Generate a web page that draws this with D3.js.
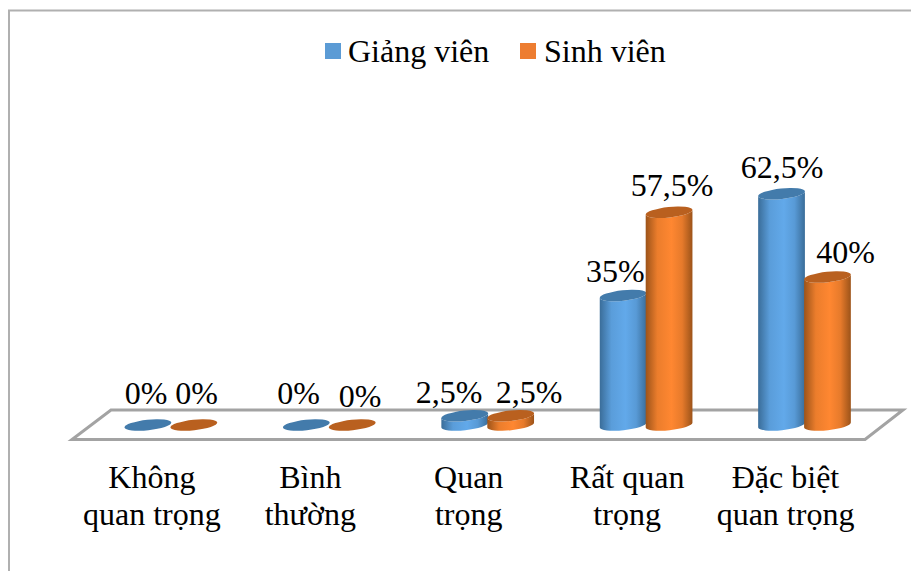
<!DOCTYPE html>
<html>
<head>
<meta charset="utf-8">
<script src="https://cdnjs.cloudflare.com/ajax/libs/d3/7.8.5/d3.min.js"></script>
<style>
    html, body { margin: 0; padding: 0; background: #fff; }
    svg { display: block; }
    text { font-family: "Liberation Serif", serif; fill: #000; }
</style>
</head>
<body>
<div id="chart"></div>
<script>
// values
const categories = ["Không quan trọng", "Bình thường", "Quan trọng", "Rất quan trọng", "Đặc biệt quan trọng"];
const categoryLines = [["Không", "quan trọng"], ["Bình", "thường"], ["Quan", "trọng"], ["Rất quan", "trọng"], ["Đặc biệt", "quan trọng"]];
const seriesNames = ["Giảng viên", "Sinh viên"];
const giangVien = [0, 0, 2.5, 35, 62.5];
const sinhVien = [0, 0, 2.5, 57.5, 40];
const valueLabels = [["0%", "0%", "2,5%", "35%", "62,5%"], ["0%", "0%", "2,5%", "57,5%", "40%"]];

const width = 911, height = 571;
const colors = [
    {top: "#437bab", edge: "#3a6d99", mid: "#62a9ea"},
    {top: "#b9601f", edge: "#9c5319", mid: "#ff8731"}
];

const svg = d3.select("#chart").append("svg")
    .attr("width", width)
    .attr("height", height);

// horizontal shading that makes the bars look round
const defs = svg.append("defs");
colors.forEach((c, i) => {
    const grad = defs.append("linearGradient").attr("id", "cyl" + i);
    grad.append("stop").attr("offset", "0%").attr("stop-color", c.edge);
    grad.append("stop").attr("offset", "25%").attr("stop-color", d3.interpolateRgb(c.edge, c.mid)(0.8));
    grad.append("stop").attr("offset", "55%").attr("stop-color", c.mid);
    grad.append("stop").attr("offset", "78%").attr("stop-color", d3.interpolateRgb(c.edge, c.mid)(0.75));
    grad.append("stop").attr("offset", "100%").attr("stop-color", c.edge);
});

// outer frame, only left and top show up in the source
svg.append("path")
    .attr("d", "M9,571V10.5H911")
    .attr("fill", "none")
    .attr("stroke", "#b0b0b0")
    .attr("stroke-width", 2);

const x0 = d3.scaleBand().domain(categories).range([91.7, 883.7]).paddingInner(0.42).paddingOuter(0.21);
const x1 = d3.scaleBand().domain(seriesNames).range([0, x0.bandwidth()]);
const y = d3.scaleLinear().domain([0, 100]).range([425, 55]);

// floor of the 3d plot
svg.append("path")
    .attr("d", "M72,439.5H865L903,410H111Z")
    .attr("fill", "#fff")
    .attr("stroke", "#a3a3a3")
    .attr("stroke-width", 3);

const rx = 23.5, ry = 5.2, tilt = -6;
const ca = Math.cos(tilt * Math.PI / 180) * rx, sa = Math.sin(tilt * Math.PI / 180) * rx;

function cylinderPath(cx, yTop, yBase) {
    return `M${cx - ca},${yTop - sa}L${cx - ca},${yBase - sa}`
        + `A${rx},${ry} ${tilt} 0 0 ${cx + ca},${yBase + sa}`
        + `L${cx + ca},${yTop + sa}`
        + `A${rx},${ry} ${tilt} 0 1 ${cx - ca},${yTop - sa}Z`;
}

const seriesValues = [giangVien, sinhVien];
const rows = categories.flatMap((cat, i) => seriesNames.map((name, s) => ({
    cat, name, s, i, value: seriesValues[s][i]
})));

const bars = svg.append("g").selectAll("g")
    .data(rows)
    .join("g")
    .attr("transform", d => `translate(${x0(d.cat) + x1(d.name) + x1.bandwidth() / 2},0)`);

bars.filter(d => d.value > 0).append("path")
    .attr("d", d => cylinderPath(0, y(d.value), y(0)))
    .attr("fill", d => `url(#cyl${d.s})`);

bars.append("ellipse")
    .attr("rx", rx)
    .attr("ry", ry)
    .attr("transform", d => `translate(0,${y(d.value)}) rotate(${tilt})`)
    .attr("fill", d => colors[d.s].top);

// data labels were dragged by hand in the source, so they sit at their own spots
const labelSpots = [
    [[146, 403.5], [298.5, 403.5], [449, 403], [615.4, 281.7], [782, 177.5]],
    [[196.5, 403.5], [360, 406.5], [529, 403], [672, 195.5], [845.5, 263]]
];

svg.append("g").selectAll("text")
    .data(rows)
    .join("text")
    .attr("x", d => labelSpots[d.s][d.i][0])
    .attr("y", d => labelSpots[d.s][d.i][1])
    .attr("text-anchor", "middle")
    .attr("font-size", 32)
    .text(d => valueLabels[d.s][d.i]);

// category labels, two lines each
const catLabels = svg.append("g").selectAll("text")
    .data(categories)
    .join("text")
    .attr("text-anchor", "middle")
    .attr("font-size", 32)
    .attr("transform", d => `translate(${x0(d) + x0.bandwidth() / 2 - 19},0)`);

catLabels.selectAll("tspan")
    .data((d, i) => categoryLines[i])
    .join("tspan")
    .attr("x", 0)
    .attr("y", (d, i) => 488.3 + i * 36.7)
    .text(d => d);

// legend
const legendX = [325, 520];
const legend = svg.append("g").selectAll("g")
    .data(seriesNames)
    .join("g")
    .attr("transform", (d, i) => `translate(${legendX[i]},43)`);

legend.append("rect")
    .attr("width", 16)
    .attr("height", 16)
    .attr("fill", (d, i) => i === 0 ? "#5b9bd5" : "#ed7d31");

legend.append("text")
    .attr("x", (d, i) => i === 0 ? 23 : 24)
    .attr("y", 19)
    .attr("font-size", 32)
    .text(d => d);
</script>
</body>
</html>
